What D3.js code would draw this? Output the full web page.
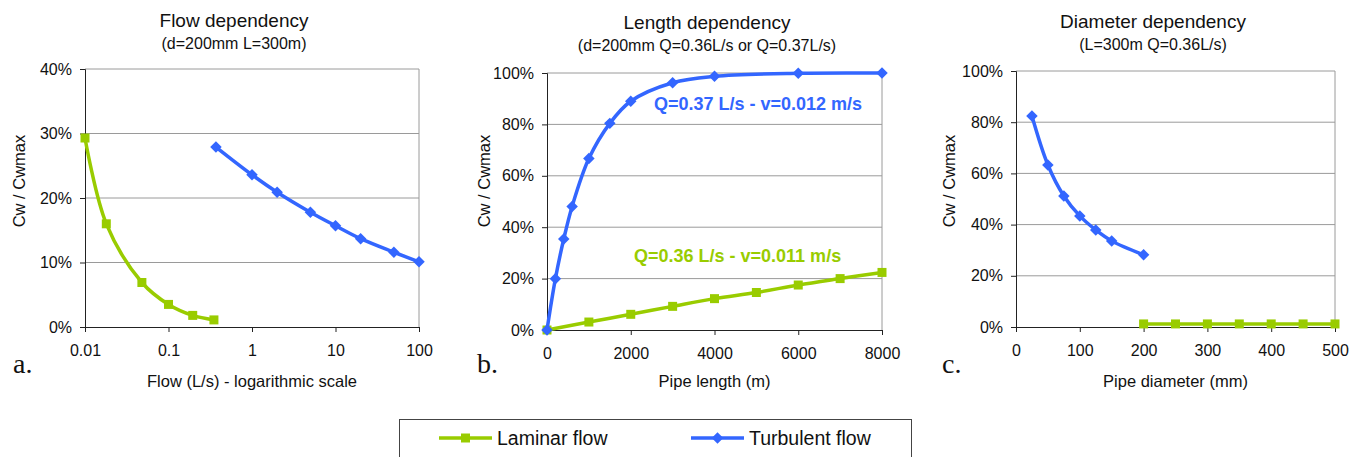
<!DOCTYPE html>
<html>
<head>
<meta charset="utf-8">
<script src="https://cdn.jsdelivr.net/npm/d3@7/dist/d3.min.js"></script>
<style>
  body { margin: 0; background: #fff; }
  svg { font-family: "Liberation Sans", Arial, sans-serif; }
</style>
</head>
<body>
<svg id="chart" width="1361" height="457"></svg>
<script>
// a. flow dependency (log x)
const flowLamX = [0.01, 0.018, 0.048, 0.1, 0.195, 0.35];
const flowLamY = [0.293, 0.160, 0.069, 0.035, 0.018, 0.011];
const flowTurbX = [0.37, 1, 2, 5, 10, 20, 50, 100];
const flowTurbY = [0.279, 0.236, 0.209, 0.178, 0.157, 0.137, 0.116, 0.101];
const flowXTicks = [0.01, 0.1, 1, 10, 100];
const flowYTicks = [0, 0.1, 0.2, 0.3, 0.4];

// b. length dependency
const lenLamX = [0, 1000, 2000, 3000, 4000, 5000, 6000, 7000, 8000];
const lenLamY = [0.0, 0.031, 0.061, 0.092, 0.122, 0.146, 0.175, 0.200, 0.224];
const lenTurbX = [0, 200, 400, 600, 1000, 1500, 2000, 3000, 4000, 6000, 8000];
const lenTurbY = [0.0, 0.199, 0.354, 0.481, 0.667, 0.804, 0.89, 0.962, 0.987, 0.999, 1.0];
const lenXTicks = [0, 2000, 4000, 6000, 8000];
const lenYTicks = [0, 0.2, 0.4, 0.6, 0.8, 1.0];

// c. diameter dependency
const diaLamX = [200, 250, 300, 350, 400, 450, 500];
const diaLamY = [0.012, 0.012, 0.012, 0.012, 0.012, 0.012, 0.012];
const diaTurbX = [25, 50, 75, 100, 125, 150, 200];
const diaTurbY = [0.824, 0.633, 0.512, 0.434, 0.379, 0.336, 0.282];
const diaXTicks = [0, 100, 200, 300, 400, 500];
const diaYTicks = [0, 0.2, 0.4, 0.6, 0.8, 1.0];

const titles = ["Flow dependency", "Length dependency", "Diameter dependency"];
const subtitles = ["(d=200mm L=300m)", "(d=200mm Q=0.36L/s or Q=0.37L/s)", "(L=300m Q=0.36L/s)"];
const xTitles = ["Flow  (L/s) - logarithmic scale", "Pipe length (m)", "Pipe diameter (mm)"];
const yTitle = "Cw / Cwmax";
const letters = ["a.", "b.", "c."];
const seriesNames = ["Laminar flow", "Turbulent flow"];
const notes = ["Q=0.36 L/s - v=0.011 m/s", "Q=0.37 L/s - v=0.012 m/s"];

const green = "#99cc00";
const blue = "#3366ff";

const zip = (xs, ys) => xs.map((x, i) => [x, ys[i]]);

const panels = [
  { left: 85, right: 419, top: 69, bottom: 327, log: true, xDomain: [0.01, 100],
    xTicks: flowXTicks, yTicks: flowYTicks, lam: zip(flowLamX, flowLamY), turb: zip(flowTurbX, flowTurbY),
    titleY: 27, yTitleX: 25, letterX: 13, titleX: 234 },
  { left: 547, right: 882, top: 73, bottom: 330, log: false, xDomain: [0, 8000],
    xTicks: lenXTicks, yTicks: lenYTicks, lam: zip(lenLamX, lenLamY), turb: zip(lenTurbX, lenTurbY),
    titleY: 29, yTitleX: 490, letterX: 477, titleX: 707 },
  { left: 1016, right: 1335, top: 71, bottom: 327, log: false, xDomain: [0, 500],
    xTicks: diaXTicks, yTicks: diaYTicks, lam: zip(diaLamX, diaLamY), turb: zip(diaTurbX, diaTurbY),
    titleY: 28, yTitleX: 955, letterX: 942, titleX: 1153 }
];

const svg = d3.select("#chart");
const square = d3.symbol().type(d3.symbolSquare).size(81);
const diamond = d3.symbol().type(d3.symbolSquare).size(66);

panels.forEach((p, i) => {
  const x = (p.log ? d3.scaleLog() : d3.scaleLinear()).domain(p.xDomain).range([p.left, p.right]);
  const y = d3.scaleLinear().domain([0, d3.max(p.yTicks)]).range([p.bottom, p.top]);
  const g = svg.append("g");

  // gridlines
  g.selectAll(".grid")
   .data(p.yTicks.slice(1))
   .enter().append("line")
   .attr("x1", p.left).attr("x2", p.right)
   .attr("y1", d => y(d)).attr("y2", d => y(d))
   .attr("stroke", "#9a9a9a").attr("stroke-width", 1);

  // right border
  g.append("line")
   .attr("x1", p.right).attr("x2", p.right)
   .attr("y1", p.top).attr("y2", p.bottom)
   .attr("stroke", "#9a9a9a").attr("stroke-width", 1);

  const xAxis = d3.axisBottom(x).tickValues(p.xTicks).tickSize(5).tickPadding(13)
                  .tickFormat(p.log ? d3.format("~g") : d3.format("d"));
  const yAxis = d3.axisLeft(y).tickValues(p.yTicks).tickSize(5).tickPadding(8)
                  .tickFormat(d3.format(".0%"));

  const gx = g.append("g").attr("transform", `translate(0, ${p.bottom})`).call(xAxis);
  const gy = g.append("g").attr("transform", `translate(${p.left}, 0)`).call(yAxis);
  [gx, gy].forEach(a => {
    a.select(".domain").attr("stroke", "#222");
    a.selectAll(".tick line").attr("stroke", "#222");
    a.selectAll("text").attr("font-size", 16).attr("fill", "#111")
     .attr("font-family", "'Liberation Sans', Arial, sans-serif");
  });

  const line = d3.line()
    .x(d => x(d[0]))
    .y(d => y(d[1]))
    .curve(d3.curveCatmullRom.alpha(0.5));

  g.append("path").datum(p.lam)
   .attr("d", line).attr("fill", "none")
   .attr("stroke", green).attr("stroke-width", 3.5);
  g.selectAll(".lam").data(p.lam).enter().append("path")
   .attr("d", square)
   .attr("transform", d => `translate(${x(d[0])}, ${y(d[1])})`)
   .attr("fill", green);

  g.append("path").datum(p.turb)
   .attr("d", line).attr("fill", "none")
   .attr("stroke", blue).attr("stroke-width", 3.5);
  g.selectAll(".turb").data(p.turb).enter().append("path")
   .attr("d", diamond)
   .attr("transform", d => `translate(${x(d[0])}, ${y(d[1])}) rotate(45)`)
   .attr("fill", blue);

  // titles
  g.append("text").attr("x", p.titleX).attr("y", p.titleY)
   .attr("text-anchor", "middle").attr("font-size", 19).attr("fill", "#111")
   .text(titles[i]);
  g.append("text").attr("x", p.titleX).attr("y", p.titleY + 22)
   .attr("text-anchor", "middle").attr("font-size", 16).attr("fill", "#111")
   .text(subtitles[i]);

  g.append("text").attr("x", (p.left + p.right) / 2).attr("y", 387)
   .attr("text-anchor", "middle").attr("font-size", 16.5).attr("fill", "#111")
   .text(xTitles[i]);

  g.append("text")
   .attr("transform", `translate(${p.yTitleX}, 181) rotate(-90)`)
   .attr("text-anchor", "middle").attr("font-size", 16.5).attr("fill", "#111")
   .text(yTitle);

  g.append("text").attr("x", p.letterX).attr("y", 373)
   .attr("font-family", "'Liberation Serif', 'Times New Roman', serif")
   .attr("font-size", 28).attr("fill", "#111")
   .text(letters[i]);

  if (i === 1) {
    g.append("text").attr("x", 654).attr("y", 110)
     .attr("font-size", 18).attr("font-weight", "bold").attr("fill", blue)
     .text(notes[1]);
    g.append("text").attr("x", 634).attr("y", 262)
     .attr("font-size", 18).attr("font-weight", "bold").attr("fill", green)
     .text(notes[0]);
  }
});

// legend
const legend = svg.append("g");
legend.append("rect")
  .attr("x", 399.5).attr("y", 419.5).attr("width", 512).attr("height", 60)
  .attr("fill", "none").attr("stroke", "#444").attr("stroke-width", 1);

const legendItems = [
  { name: seriesNames[0], color: green, sym: square, rot: 0, x0: 439 },
  { name: seriesNames[1], color: blue, sym: diamond, rot: 45, x0: 691 }
];
legendItems.forEach(it => {
  legend.append("line")
    .attr("x1", it.x0).attr("x2", it.x0 + 53).attr("y1", 438).attr("y2", 438)
    .attr("stroke", it.color).attr("stroke-width", 3.5);
  legend.append("path").attr("d", it.sym)
    .attr("transform", `translate(${it.x0 + 26.5}, 438) rotate(${it.rot})`)
    .attr("fill", it.color);
  legend.append("text").attr("x", it.x0 + 58).attr("y", 445)
    .attr("font-size", 19.5).attr("fill", "#111")
    .text(it.name);
});
</script>
</body>
</html>
